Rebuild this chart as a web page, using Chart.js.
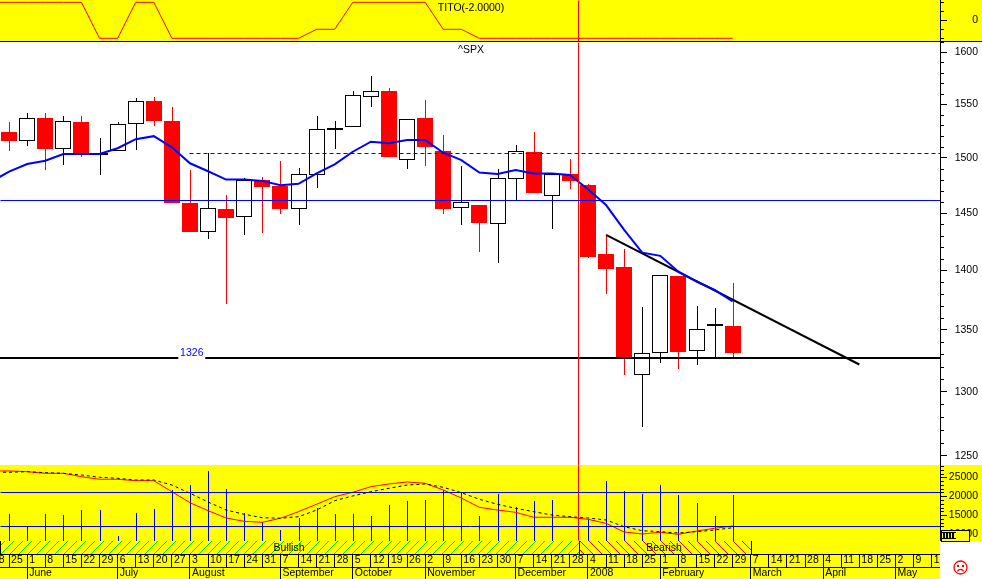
<!DOCTYPE html>
<html>
<head>
<meta charset="utf-8">
<title>^SPX weekly</title>
<style>
  html, body { margin: 0; padding: 0; background: #fff; overflow: hidden; }
  canvas { position: absolute; left: 0; display: block; }
  #topChart { top: 0; background: #ff0; }
  #mainChart { top: 42px; background: #fff; }
  #lowChart { top: 465px; background: #ff0; }
</style>
<script src="https://cdn.jsdelivr.net/npm/chart.js@4"></script>
</head>
<body>
<canvas id="topChart" width="982" height="42"></canvas>
<canvas id="mainChart" width="982" height="423"></canvas>
<canvas id="lowChart" width="982" height="114"></canvas>
<script>
/* ── DATA ── */
// one entry per week, first one (18 May) sits just off the left edge
const weekLabels = ['18','25','1','8','15','22','29','6','13','20','27','3','10','17','24','31','7','14','21','28',
  '5','12','19','26','2','9','16','23','30','7','14','21','28','4','11','18','25','1','8','15','22','29',
  '7','14','21','28','4','11','18','25','2','9','16'];
const monthLabels = ['June','July','August','September','October','November','December','2008','February','March','April','May'];
const monthWeeks  = [2, 7, 11, 16, 20, 24, 29, 33, 37, 42, 46, 50];

// candles start at week 1 (25 May)
const opens  = [1523.9,1515.8,1536.9,1508.3,1533.5,1502.6,1505.9,1531.1,1552.9,1534.1,1459,1433.2,1453.6,1446.5,1479.8,1474.6,1453.3,1484.6,1525.6,1528.3,1556.4,1562.5,1497.6,1536.9,1506.2,1454.2,1457.2,1440.7,1480.4,1504.9,1465,1484.9,1475.3,1414.3,1403,1313.2,1331.2,1395.4,1332.8,1353,1353.4];
const highs  = [1533.5,1541.9,1541.9,1538.8,1538.8,1518.3,1533.5,1555.8,1556.7,1547.2,1488.8,1504,1466.2,1481.6,1482.5,1496.9,1490.6,1538.8,1534.1,1562.5,1576.9,1565.4,1535.7,1553.8,1521.1,1492.4,1457.2,1490,1512.1,1523.9,1485.2,1498.7,1476.2,1431.1,1418.4,1369.3,1396,1395.4,1370.1,1368.5,1389.5];
const lows   = [1506.2,1510.8,1488.8,1493.3,1500.8,1484.3,1505.9,1507.1,1529.5,1459.3,1433.5,1427.6,1371.3,1430.9,1432.9,1449.1,1439.6,1472.6,1508,1528.3,1547.5,1500.6,1490,1492.4,1449.1,1439.6,1416.1,1406.8,1461.7,1468.3,1436.3,1471.9,1410.9,1379.7,1313,1271.9,1322.8,1318,1321.2,1327.4,1327.4];
const closes = [1515.5,1536.7,1508,1534.1,1503.4,1504.6,1531.1,1552.6,1534.1,1459.3,1433.5,1454.2,1445.9,1479.8,1473.5,1453.6,1484.9,1526.4,1527.8,1558.4,1562.2,1500.6,1535.7,1509.9,1453.6,1459.6,1441.3,1481.3,1505.9,1468.3,1484.7,1479.2,1412,1401.5,1326.1,1331.2,1396,1331.7,1350.6,1355.2,1330.8];

// these three start at week 0
const movingAvg = [1478,1487.3,1494.2,1497.2,1503.4,1503.4,1503.4,1508.7,1517.1,1519.9,1509.6,1494.9,1487.6,1480.1,1480.1,1478.9,1475,1476.2,1485.8,1493.9,1505.5,1514.8,1513.3,1516.4,1516.4,1504.6,1497.8,1486.4,1485.2,1488.8,1485.5,1485.5,1484.3,1471.4,1457.2,1435.2,1415.4,1412.6,1399,1390.6,1383.6,1373.8];
const titoValues = [2,2,2,2,2,2,-2,-2,2,2,-2,-2,-2,-2,-2,-2,-2,-2,-1,-1,2,2,2,2,2,-1,-1,-2,-2,-2,-2,-2,-2,-2,-2,-2,-2,-2,-2,-2,-2,-2];
const fastLine = [98.6,98.6,97.6,95.3,95.3,90.5,86.9,86.9,84.9,84.9,69.4,53.9,42.7,32.4,27.7,26.3,32,41.3,51.7,62.4,68.6,76.5,80.3,83.1,81.2,71.8,60.5,47.4,43.6,40.4,33.4,33.4,33.4,30.6,24.9,12.7,9.9,12.2,9.4,14.1,17.9,21.1];
const slowLine = [97,96.7,97.6,96.2,95.3,92.9,89.7,88.3,85.9,85.9,78.8,67.2,54.9,43.6,37.6,32.8,32,34.2,43.6,56.7,63.4,69.4,74.2,78.8,80.3,75.6,68,58.7,51.7,46,41.3,36.6,34.2,32.4,29.6,20.1,14.5,13.1,11.3,13.1,15.5,18.7];

// volume starts at week 1, no bar shows for the week of 28 December
const volumes = [15290,11930,15290,15030,16350,16350,9470,15550,16610,21640,22960,26660,21900,15550,13250,11060,14230,16880,15290,15290,14760,17670,18730,18990,21640,20840,14760,20580,17140,18730,18990,null,13700,24020,21370,20580,22960,20320,18200,14760,20320];
const volumeFloor = 8150;

const priceTicks  = [1600,1550,1500,1450,1400,1350,1300,1250];
const volumeTicks = [25000,20000,15000,10000];
const titoTicks   = [0];

const resistanceLevel = 1503.9;   // dashed
const channelLevel    = 1461.3;
const supportLevel    = 1327.1;
const volumeLevels    = [20980, 12040];
const trendFrom = { week: 34, price: 1430.9 };
const trendTo   = { week: 48, price: 1321.8 };
const dividerWeek = 32.48;        // red line, bullish turns bearish here
const bearishEnd  = 42;

/* ── COMMON ── */
const YELLOW = '#ffff00', RED = '#ff0000', BLUE = '#0000ff', BLACK = '#000000';
const FONT = '"Liberation Sans", Arial, sans-serif';
const FONT_SIZE = 10.5;
const xMin = 0.4975, xMax = 52.46;
Chart.defaults.font.family = FONT;
Chart.defaults.font.size = FONT_SIZE;
Chart.defaults.color = BLACK;

const noPad = axis => { axis.paddingLeft = axis.paddingRight = axis.paddingTop = axis.paddingBottom = 0; };

function hiddenX() {
  return { type: 'linear', display: false, min: xMin, max: xMax, offset: false, grid: { offset: false } };
}

function rightAxis(min, max, labelled, type) {
  return {
    type: type || 'linear', position: 'right', min, max,
    border: { display: true, color: BLACK },
    grid: { drawOnChartArea: false, color: BLACK, tickLength: 7 },
    ticks: { padding: 2, crossAlign: 'far', autoSkip: false, callback: v => String(v) },
    afterBuildTicks: a => { a.ticks = labelled.map(v => ({ value: v })); },
    afterFit: a => { a.width = 38; noPad(a); }
  };
}

function lineSet(xs, ys, color, width, extra) {
  return Object.assign({
    type: 'line', data: ys.map((y, i) => ({ x: xs[i], y })),
    borderColor: color, borderWidth: width, pointRadius: 0, tension: 0, order: 1
  }, extra || {});
}

const weekIndex = weekLabels.map((_, j) => j);
const candleWeeks = opens.map((_, i) => i + 1);
const edges = [xMin, xMax];

// snap bars and flagged lines to whole pixels, the original has no smoothing
const snapPlugin = {
  id: 'snap',
  afterDatasetsUpdate(chart) {
    chart.data.datasets.forEach((ds, i) => {
      const meta = chart.getDatasetMeta(i);
      if (meta.type === 'bar') {
        meta.data.forEach(el => {
          if (el.width <= 1) el.x = Math.round(el.x) + 0.5; else el.x = Math.round(el.x);
          el.y = Math.round(el.y);
          el.base = Math.round(el.base);
        });
      } else if (ds.crisp) {
        meta.data.forEach(pt => {
          pt.x = Math.round(pt.x - 0.5) + 0.5;
          pt.y = Math.round(pt.y - 0.5) + 0.5;
        });
      }
    });
  }
};

// short unlabelled ticks and plain captions
function minorTicks(chart, scale, values, length) {
  const ctx = chart.ctx;
  ctx.fillStyle = BLACK;
  values.forEach(v => {
    const y = Math.round(scale.getPixelForValue(v));
    ctx.fillRect(scale.left, y, length, 1);
  });
}

function caption(ctx, text, x, y, color, align) {
  ctx.font = FONT_SIZE + 'px ' + FONT;
  ctx.fillStyle = color || BLACK;
  ctx.textAlign = align || 'center';
  ctx.textBaseline = 'middle';
  ctx.fillText(text, x, y);
}

function hatch(ctx, color, forward) {
  const tile = document.createElement('canvas');
  tile.width = tile.height = 9;
  const t = tile.getContext('2d');
  t.fillStyle = color;
  for (let k = 0; k < 9; k++) t.fillRect(k, forward ? 8 - k : k, 1, 1);
  return ctx.createPattern(tile, 'repeat');
}

/* ── TOP PANEL ── */
const titoMinor = [2, 1, -1, -2];
new Chart(document.getElementById('topChart'), {
  type: 'line',
  data: { datasets: [
    lineSet(weekIndex, titoValues, RED, 1),
    lineSet([dividerWeek, dividerWeek], [-2.41, 2.256], RED, 1, { crisp: true })
  ] },
  options: {
    responsive: false, animation: false, events: [],
    layout: { padding: { right: 4 } },
    plugins: { legend: { display: false }, tooltip: { enabled: false } },
    scales: { x: hiddenX(), y: rightAxis(-2.41, 2.256, titoTicks) }
  },
  plugins: [snapPlugin, {
    id: 'topExtras',
    afterDraw(chart) {
      const ctx = chart.ctx;
      minorTicks(chart, chart.scales.y, titoMinor, 4);
      caption(ctx, 'TITO(-2.0000)', 471, 8);
      ctx.fillStyle = BLACK;
      ctx.fillRect(0, 41, 982, 1);
    }
  }]
});

/* ── PRICE PANEL ── */
const isDoji  = i => Math.abs(opens[i] - closes[i]) < 3;
const isDown  = i => closes[i] < opens[i] && !isDoji(i);
const wickCol = opens.map((_, i) => isDown(i) ? RED : BLACK);
const bodyCol = opens.map((_, i) => isDown(i) ? RED : (isDoji(i) ? BLACK : '#ffffff'));

const priceMinor = [];
for (let v = 1260; v <= 1610; v += 10) if (v % 50) priceMinor.push(v);

new Chart(document.getElementById('mainChart'), {
  type: 'bar',
  data: { datasets: [
    lineSet(edges, [channelLevel, channelLevel], BLUE, 1, { crisp: true, order: 0 }),
    lineSet([11, xMax], [resistanceLevel, resistanceLevel], BLUE, 1, { crisp: true, borderDash: [4, 3], order: 0 }),
    lineSet([dividerWeek, dividerWeek], [1243, 1610], RED, 1, { crisp: true, order: 0 }),
    lineSet(weekIndex, movingAvg, BLUE, 2, { order: 0 }),
    lineSet(edges, [supportLevel, supportLevel], BLACK, 2, { order: 0 }),
    lineSet([trendFrom.week, trendTo.week], [trendFrom.price, trendTo.price], BLACK, 2, { order: 0 }),
    {
      label: 'bodies',
      data: candleWeeks.map((w, i) => ({ x: w, y: [opens[i], closes[i]] })),
      backgroundColor: bodyCol, borderColor: wickCol.map((c, i) => isDown(i) ? RED : BLACK),
      borderWidth: 1, borderSkipped: false, inflateAmount: 0,
      barThickness: 16, grouped: false, order: 1
    },
    {
      label: 'wicks',
      data: candleWeeks.map((w, i) => ({ x: w, y: [lows[i], highs[i]] })),
      backgroundColor: wickCol, borderWidth: 0, inflateAmount: 0,
      barThickness: 1, grouped: false, order: 2
    }
  ] },
  options: {
    responsive: false, animation: false, events: [],
    layout: { padding: { right: 4 } },
    plugins: { legend: { display: false }, tooltip: { enabled: false } },
    scales: { x: hiddenX(), y: rightAxis(1243, 1610, priceTicks, 'logarithmic') }
  },
  plugins: [snapPlugin, {
    id: 'mainExtras',
    afterDraw(chart) {
      const ctx = chart.ctx, x = chart.scales.x, y = chart.scales.y;
      minorTicks(chart, y, priceMinor, 4);
      caption(ctx, '^SPX', 471, 8);
      // level tag sits on a gap in the support line
      const tagX = x.getPixelForValue(11.1), tagY = y.getPixelForValue(supportLevel);
      ctx.fillStyle = '#ffffff';
      ctx.fillRect(tagX - 13.5, tagY - 10, 27, 13);
      caption(ctx, '1326', tagX, tagY - 4.5, BLUE);
    }
  }]
});

/* ── VOLUME PANEL ── */
const volumeMinor = [];
for (let v = 9000; v <= 28000; v += 1000) if (v % 5000) volumeMinor.push(v);

new Chart(document.getElementById('lowChart'), {
  type: 'bar',
  data: { datasets: [
    lineSet(edges, [volumeLevels[0], volumeLevels[0]], BLUE, 1, { crisp: true, order: 0 }),
    lineSet(edges, [volumeLevels[1], volumeLevels[1]], BLUE, 1, { crisp: true, order: 0 }),
    lineSet([dividerWeek, dividerWeek], [volumeFloor, 28260], RED, 1, { crisp: true, order: 0 }),
    lineSet(weekIndex, slowLine, BLACK, 1, { yAxisID: 'yLine', borderDash: [3, 3], order: 0 }),
    lineSet(weekIndex, fastLine, RED, 1, { yAxisID: 'yLine', order: 0 }),
    {
      label: 'volume',
      data: candleWeeks.map((w, i) => ({ x: w, y: volumes[i] })),
      base: volumeFloor, backgroundColor: BLUE, borderWidth: 0, inflateAmount: 0,
      barThickness: 1, grouped: false, order: 1
    }
  ] },
  options: {
    responsive: false, animation: false, events: [],
    layout: { padding: { right: 4 } },
    plugins: { legend: { display: false }, tooltip: { enabled: false } },
    scales: {
      x: {
        type: 'linear', position: 'bottom', weight: 0, min: xMin, max: xMax, offset: false,
        border: { display: true, color: BLACK },
        grid: { offset: false, drawOnChartArea: false, color: BLACK, tickLength: 13 },
        ticks: { autoSkip: false, maxRotation: 0, minRotation: 0, align: 'start', labelOffset: 2, padding: -13, callback: v => weekLabels[v] },
        afterBuildTicks: a => { a.ticks = weekIndex.map(v => ({ value: v })); },
        afterFit: a => { a.height = 13; noPad(a); }
      },
      x2: {
        type: 'linear', axis: 'x', position: 'bottom', weight: 1, min: xMin, max: xMax, offset: false,
        border: { display: true, color: BLACK },
        grid: { offset: false, drawOnChartArea: false, color: BLACK, tickLength: 12 },
        ticks: { autoSkip: false, maxRotation: 0, minRotation: 0, align: 'start', labelOffset: 2, padding: -12,
          callback: v => monthLabels[monthWeeks.indexOf(v)] },
        afterBuildTicks: a => { a.ticks = monthWeeks.map(v => ({ value: v })); },
        afterFit: a => { a.height = 12; noPad(a); }
      },
      y: rightAxis(4710, 28260, volumeTicks),
      yLine: { type: 'linear', display: false, min: -18.3, max: 107 }
    }
  },
  plugins: [snapPlugin, {
    id: 'lowExtras',
    beforeDatasetsDraw(chart) {
      const ctx = chart.ctx, x = chart.scales.x, y = chart.scales.y;
      const top = Math.round(y.getPixelForValue(volumeFloor)), h = y.bottom - top;
      const xa = x.left, xb = Math.round(x.getPixelForValue(dividerWeek)), xc = Math.round(x.getPixelForValue(bearishEnd));
      ctx.fillStyle = hatch(ctx, '#00e000', true);
      ctx.fillRect(xa, top, xb - xa, h);
      ctx.fillStyle = hatch(ctx, RED, false);
      ctx.fillRect(xb, top, xc - xb, h);
      ctx.fillStyle = BLACK;
      [xa, xb, xc].forEach(px => ctx.fillRect(px, top, 1, h));
      caption(ctx, 'Bullish', 289, 83);
      caption(ctx, 'Bearish', 664, 83);
    },
    afterDraw(chart) {
      const ctx = chart.ctx, y = chart.scales.y;
      minorTicks(chart, y, volumeMinor, 4);

      // corner below the axis is blank
      ctx.fillStyle = '#ffffff';
      ctx.fillRect(940, 76, 42, 38);

      // small zoom box over the axis
      ctx.fillStyle = YELLOW;
      ctx.fillRect(941, 65, 28, 11);
      ctx.strokeStyle = BLACK;
      ctx.lineWidth = 1;
      ctx.strokeRect(941.5, 65.5, 28, 11);
      ctx.fillStyle = BLACK;
      for (let k = 0; k < 4; k++) ctx.fillRect(943 + k * 3, 68, 2, 5);
      ctx.fillRect(942, 67, 14, 1);
      ctx.fillRect(942, 73, 14, 1);
      ctx.fillRect(940, 65, 2, 11);

      // sad face
      ctx.lineWidth = 1.3;
      ctx.strokeStyle = RED;
      ctx.beginPath();
      ctx.arc(960.5, 102.5, 6.5, 0, Math.PI * 2);
      ctx.stroke();
      ctx.fillStyle = RED;
      ctx.fillRect(957, 100, 2, 2);
      ctx.fillRect(962, 100, 2, 2);
      ctx.beginPath();
      ctx.arc(960.5, 108, 3.5, Math.PI * 1.15, Math.PI * 1.85);
      ctx.stroke();
    }
  }]
});
</script>
</body>
</html>
